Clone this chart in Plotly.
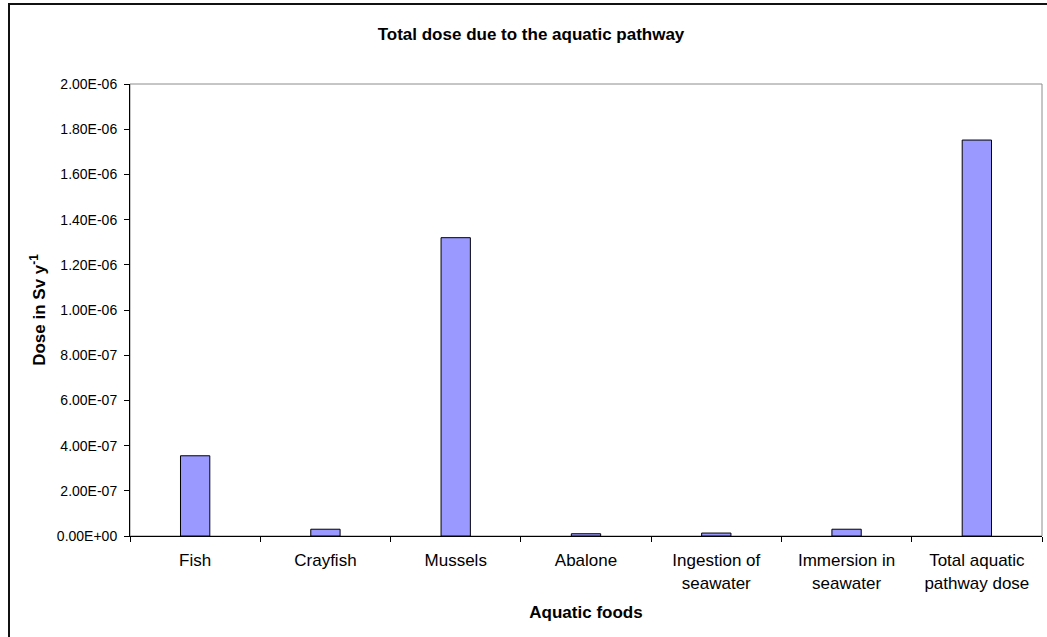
import plotly.graph_objects as go

categories = ["Fish", "Crayfish", "Mussels", "Abalone",
              "Ingestion of<br>seawater", "Immersion in<br>seawater",
              "Total aquatic<br>pathway dose"]
dose = [3.55e-7, 3.0e-8, 1.32e-6, 1.0e-8, 1.3e-8, 3.0e-8, 1.752e-6]
y_ticks = [0, 2e-7, 4e-7, 6e-7, 8e-7, 1e-6, 1.2e-6, 1.4e-6, 1.6e-6, 1.8e-6, 2e-6]
y_ticktext = [f"{v:.2E}" for v in y_ticks]

FONT = "Liberation Sans, Arial, sans-serif"

fig = go.Figure()
fig.add_trace(go.Bar(
    x=categories, y=dose, width=0.225,
    marker=dict(color="#9999FF", line=dict(color="#000000", width=1)),
))

fig.update_layout(
    width=1047, height=637,
    margin=dict(l=130, r=5, t=84, b=101),
    paper_bgcolor="white", plot_bgcolor="white",
    showlegend=False,
    font=dict(family=FONT, color="black"),
    title=dict(text="<b>Total dose due to the aquatic pathway</b>",
               x=531/1047, xanchor="center", y=1-34/637, yanchor="middle",
               font=dict(size=17, family=FONT, color="black")),
    xaxis=dict(
        range=[-0.5, 6.5], showline=True, linecolor="black", linewidth=1,
        ticks="outside", tickson="boundaries", ticklen=5, tickcolor="black",
        tickfont=dict(size=17), showgrid=False, zeroline=False,
        ticklabelstandoff=9,
        title=dict(text="<b>Aquatic foods</b>", font=dict(size=17), standoff=14),
    ),
    yaxis=dict(
        range=[0, 2e-6], showline=True, linecolor="black", linewidth=1,
        ticks="outside", ticklen=5, tickcolor="black",
        tickvals=y_ticks, ticktext=y_ticktext, tickfont=dict(size=14),
        ticklabelstandoff=4,
        showgrid=False, zeroline=False,
        title=dict(text="<b>Dose in Sv y<sup>-1</sup></b>", font=dict(size=17), standoff=6),
    ),
    shapes=[
        dict(type="rect", xref="paper", yref="paper", x0=0, x1=1, y0=0, y1=1,
             line=dict(color="#8c8c8c", width=1), layer="below"),
        dict(type="rect", xref="paper", yref="paper",
             x0=(9-130)/912, x1=1.2, y0=-0.4, y1=(536-4)/452,
             line=dict(color="#111111", width=2), layer="above"),
    ],
)

fig.write_html("out.html",
               config={"displayModeBar": False},
               post_script="document.body.style.margin='0px';document.body.style.overflow='hidden';")
